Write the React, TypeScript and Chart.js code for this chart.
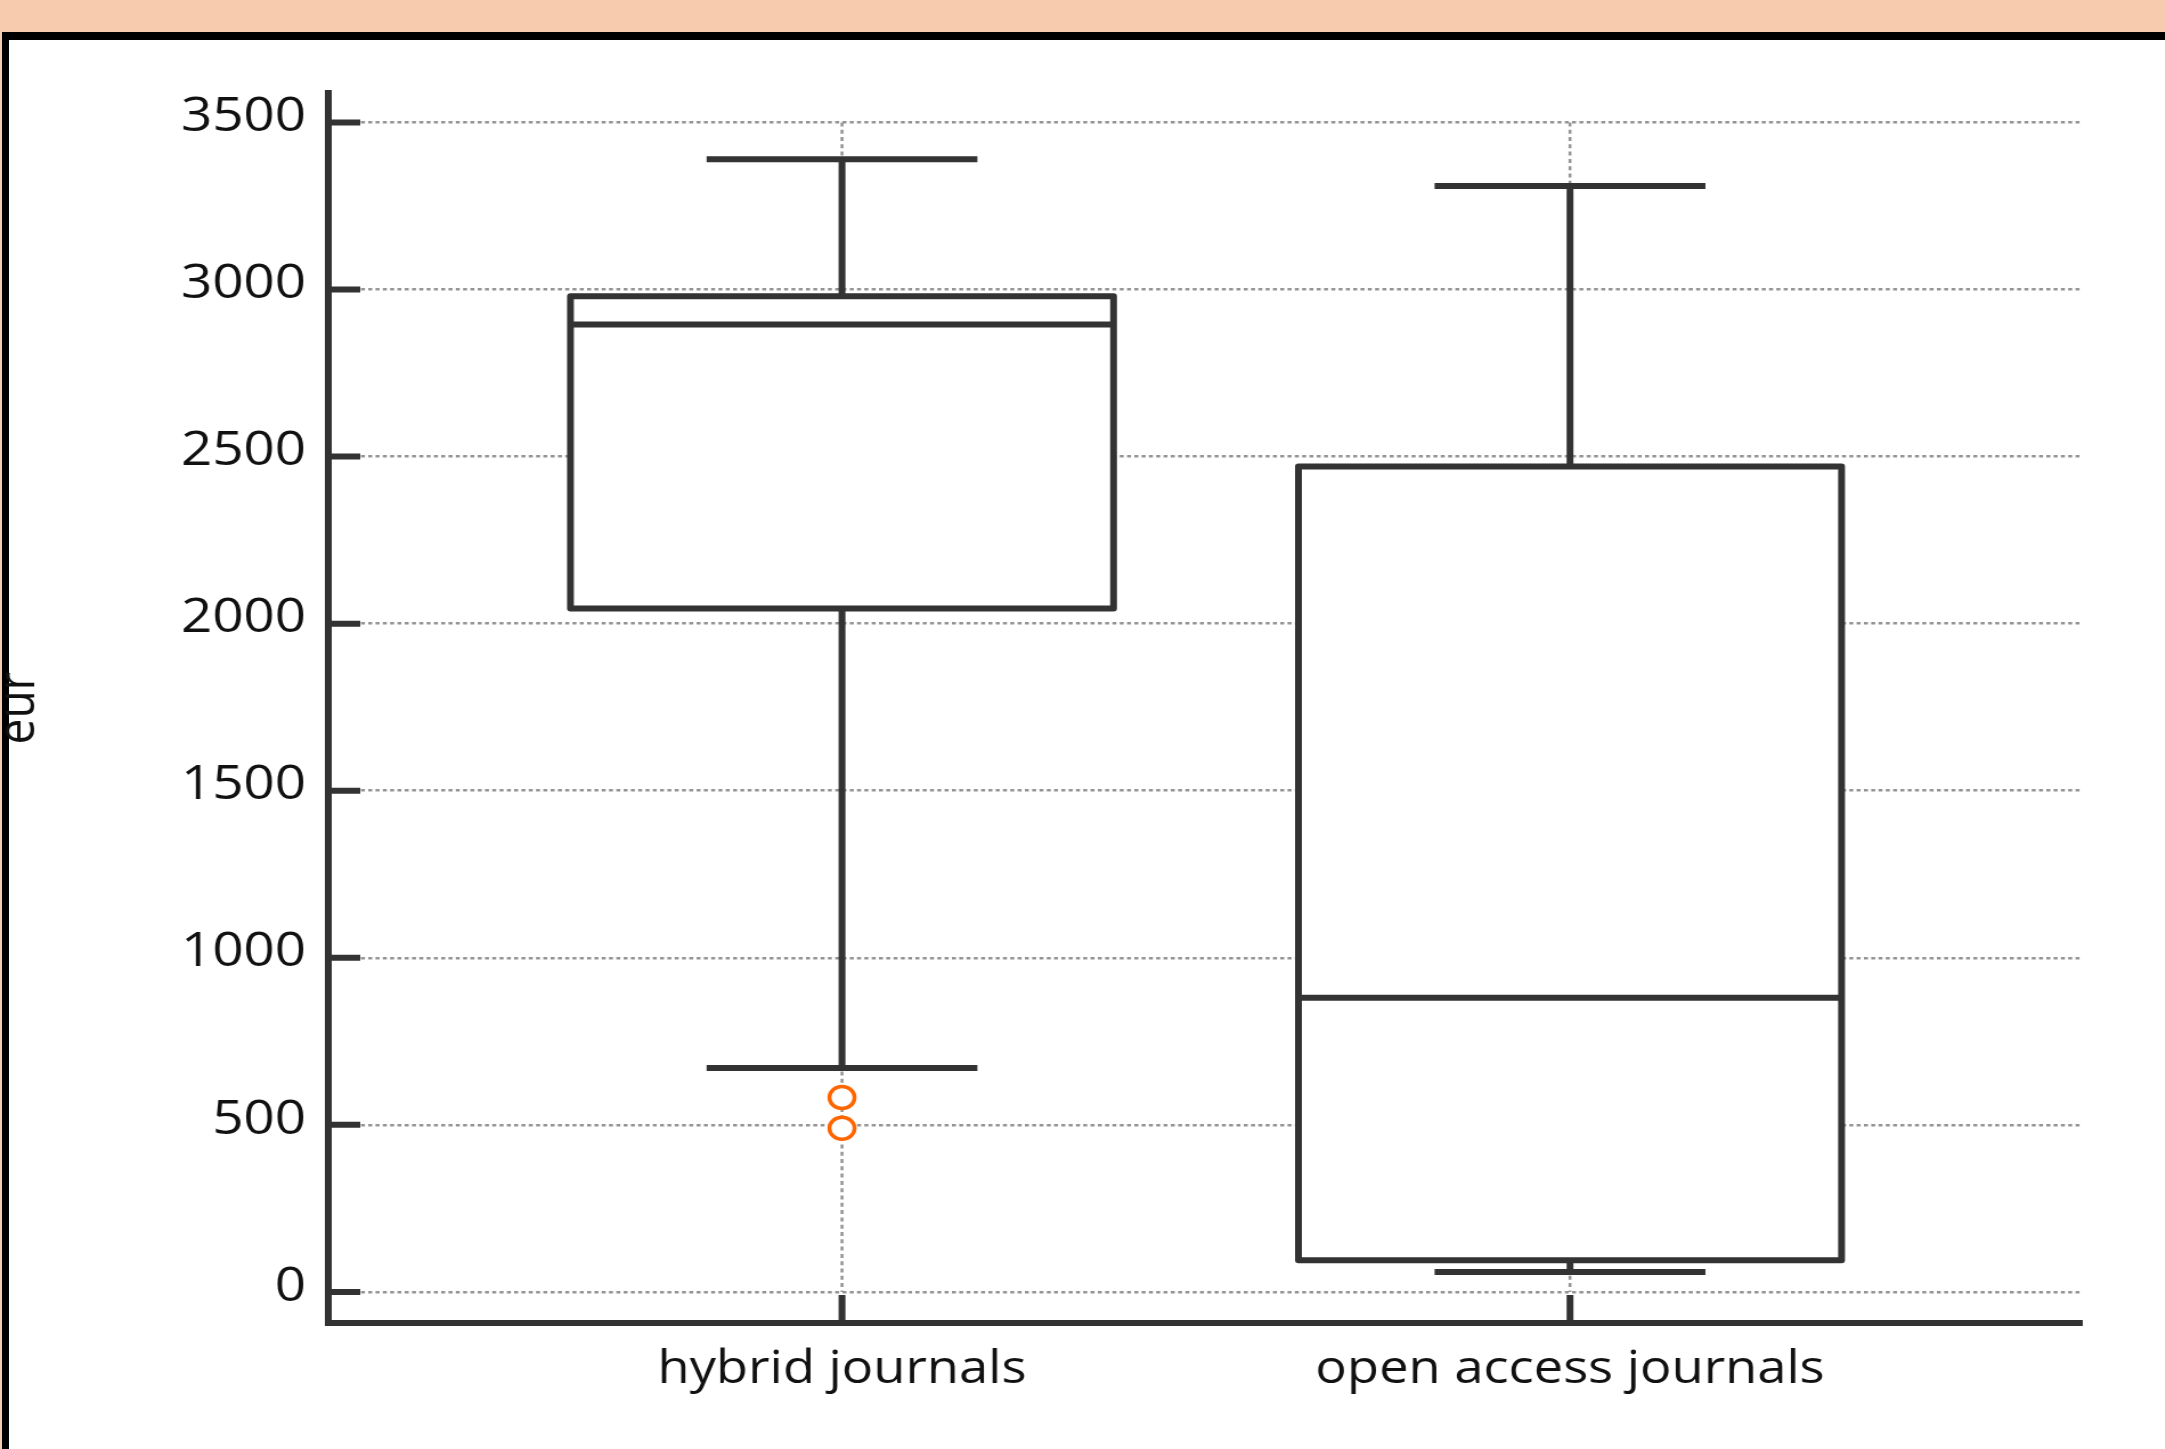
import { useEffect, useRef } from 'react';
import { Chart, registerables } from 'chart.js';

Chart.register(...registerables);

// ---- data ----
const CATEGORIES = ['hybrid journals', 'open access journals'];
const WHISKER_LOW = [670, 60];
const Q1 = [2045, 95];
const MEDIAN = [2895, 880];
const Q3 = [2980, 2470];
const WHISKER_HIGH = [3390, 3310];
const OUTLIER_CATEGORY = [0, 0];
const OUTLIER_VALUES = [582, 490];
const Y_TICKS = [0, 500, 1000, 1500, 2000, 2500, 3000, 3500];
const Y_TITLE = 'eur';

// ---- style / layout ----
const STRETCH = 1.14;
const CANVAS_W = 1900;
const CANVAS_H = 1449;
const AXIS_COLOR = '#333333';
const GRID_COLOR = '#949494';
const TEXT_COLOR = '#111111';
const OUTLIER_COLOR = '#ff6600';
const FONT = "'Open Sans', 'Noto Sans', sans-serif";
const BOX_HALF = 0.373;
const CAP_HALF = 0.186;

const boxPlugin = {
  id: 'boxes',
  beforeDatasetsDraw(chart: any) {
    const { ctx, scales, chartArea } = chart;
    const x = scales.x;
    const y = scales.y;
    ctx.save();
    // vertical dotted grid lines at categories
    ctx.strokeStyle = GRID_COLOR;
    ctx.lineWidth = 2.5;
    ctx.setLineDash([4, 3.3]);
    CATEGORIES.forEach((_, i) => {
      const px = x.getPixelForValue(i);
      ctx.beginPath();
      ctx.moveTo(px, y.getPixelForValue(Y_TICKS[Y_TICKS.length - 1]));
      ctx.lineTo(px, y.getPixelForValue(Y_TICKS[0]));
      ctx.stroke();
    });
    ctx.setLineDash([]);

    ctx.strokeStyle = AXIS_COLOR;
    ctx.lineWidth = 6;
    ctx.lineCap = 'butt';
    ctx.lineJoin = 'round';
    ctx.fillStyle = '#ffffff';
    CATEGORIES.forEach((_, i) => {
      const cx = x.getPixelForValue(i);
      const xl = x.getPixelForValue(i - BOX_HALF);
      const xr = x.getPixelForValue(i + BOX_HALF);
      const cl = x.getPixelForValue(i - CAP_HALF);
      const cr = x.getPixelForValue(i + CAP_HALF);
      const yHi = y.getPixelForValue(WHISKER_HIGH[i]);
      const yLo = y.getPixelForValue(WHISKER_LOW[i]);
      const yQ1 = y.getPixelForValue(Q1[i]);
      const yQ3 = y.getPixelForValue(Q3[i]);
      const yMed = y.getPixelForValue(MEDIAN[i]);
      // whiskers
      ctx.beginPath();
      ctx.moveTo(cx, yQ3);
      ctx.lineTo(cx, yHi);
      ctx.moveTo(cl, yHi);
      ctx.lineTo(cr, yHi);
      ctx.moveTo(cx, yQ1);
      ctx.lineTo(cx, yLo);
      ctx.moveTo(cl, yLo);
      ctx.lineTo(cr, yLo);
      ctx.stroke();
      // box
      ctx.fillRect(xl, yQ3, xr - xl, yQ1 - yQ3);
      ctx.strokeRect(xl, yQ3, xr - xl, yQ1 - yQ3);
      // median
      ctx.beginPath();
      ctx.moveTo(xl, yMed);
      ctx.lineTo(xr, yMed);
      ctx.stroke();
    });

    // inward tick marks
    ctx.lineWidth = 6;
    ctx.beginPath();
    Y_TICKS.forEach((v) => {
      const py = y.getPixelForValue(v);
      ctx.moveTo(chartArea.left, py);
      ctx.lineTo(chartArea.left + 28, py);
    });
    CATEGORIES.forEach((_, i) => {
      const px = x.getPixelForValue(i);
      ctx.moveTo(px, chartArea.bottom);
      ctx.lineTo(px, chartArea.bottom - 28);
    });
    ctx.stroke();
    ctx.restore();
  },
};

export default function App() {
  const ref = useRef<HTMLCanvasElement>(null);

  useEffect(() => {
    const canvas = ref.current;
    if (!canvas) return;
    const chart = new Chart(canvas, {
      type: 'scatter',
      data: {
        datasets: [
          {
            label: 'outliers',
            data: OUTLIER_VALUES.map((v, i) => ({ x: OUTLIER_CATEGORY[i], y: v })),
            pointStyle: 'circle',
            pointRadius: 11,
            pointBorderWidth: 3.5,
            borderColor: OUTLIER_COLOR,
            backgroundColor: '#ffffff',
            showLine: false,
          },
        ],
      },
      options: {
        animation: false,
        responsive: false,
        maintainAspectRatio: false,
        devicePixelRatio: 1,
        layout: { padding: { top: 93, right: 74, left: 0, bottom: 0 } },
        plugins: {
          legend: { display: false },
          tooltip: { enabled: false },
        },
        scales: {
          x: {
            type: 'linear',
            min: -0.7056,
            max: 1.7028,
            afterBuildTicks: (scale: any) => {
              scale.ticks = CATEGORIES.map((_, i) => ({ value: i }));
            },
            afterFit: (scale: any) => {
              scale.height = 126;
            },
            grid: {
              display: true,
              drawOnChartArea: false,
              drawTicks: false,
              color: 'rgba(0,0,0,0)',
              lineWidth: 1,
            },
            border: { display: true, color: AXIS_COLOR, width: 6 },
            ticks: {
              autoSkip: false,
              maxRotation: 0,
              minRotation: 0,
              padding: 19,
              color: TEXT_COLOR,
              font: { family: FONT, size: 46 },
              callback: (value: any) => CATEGORIES[Math.round(Number(value))] ?? '',
            },
          },
          y: {
            type: 'linear',
            min: -93,
            max: 3588,
            afterBuildTicks: (scale: any) => {
              scale.ticks = Y_TICKS.map((v) => ({ value: v }));
            },
            afterFit: (scale: any) => {
              scale.width = 288;
            },
            grid: {
              display: true,
              drawTicks: false,
              color: GRID_COLOR,
              lineWidth: 2.5,
            },
            border: { display: true, color: AXIS_COLOR, width: 6, dash: [3.5, 2.9] },
            title: {
              display: true,
              text: Y_TITLE,
              color: TEXT_COLOR,
              font: { family: FONT, size: 46, lineHeight: 0.5 },
              padding: { top: 5, bottom: 0 },
            },
            ticks: {
              padding: 19.5,
              labelOffset: -5,
              color: TEXT_COLOR,
              font: { family: FONT, size: 48 },
              callback: (value: any) => String(value),
            },
          },
        },
      },
      plugins: [boxPlugin],
    } as any);
    return () => chart.destroy();
  }, []);

  return (
    <div
      style={{
        position: 'fixed',
        left: 0,
        top: 0,
        width: 2165,
        height: 1449,
        background: '#f7cbad',
        overflow: 'hidden',
      }}
    >
      <div
        style={{
          position: 'absolute',
          left: 2,
          top: 32,
          width: 2300,
          height: 1600,
          background: '#ffffff',
          borderTop: '8px solid #000000',
          borderLeft: '7px solid #000000',
        }}
      />
      <div
        style={{
          position: 'absolute',
          left: 0,
          top: 0,
          width: CANVAS_W,
          height: CANVAS_H,
          transform: `scaleX(${STRETCH})`,
          transformOrigin: '0 0',
        }}
      >
        <canvas
          ref={ref}
          width={CANVAS_W}
          height={CANVAS_H}
          style={{ display: 'block', width: CANVAS_W, height: CANVAS_H }}
        />
      </div>
    </div>
  );
}
